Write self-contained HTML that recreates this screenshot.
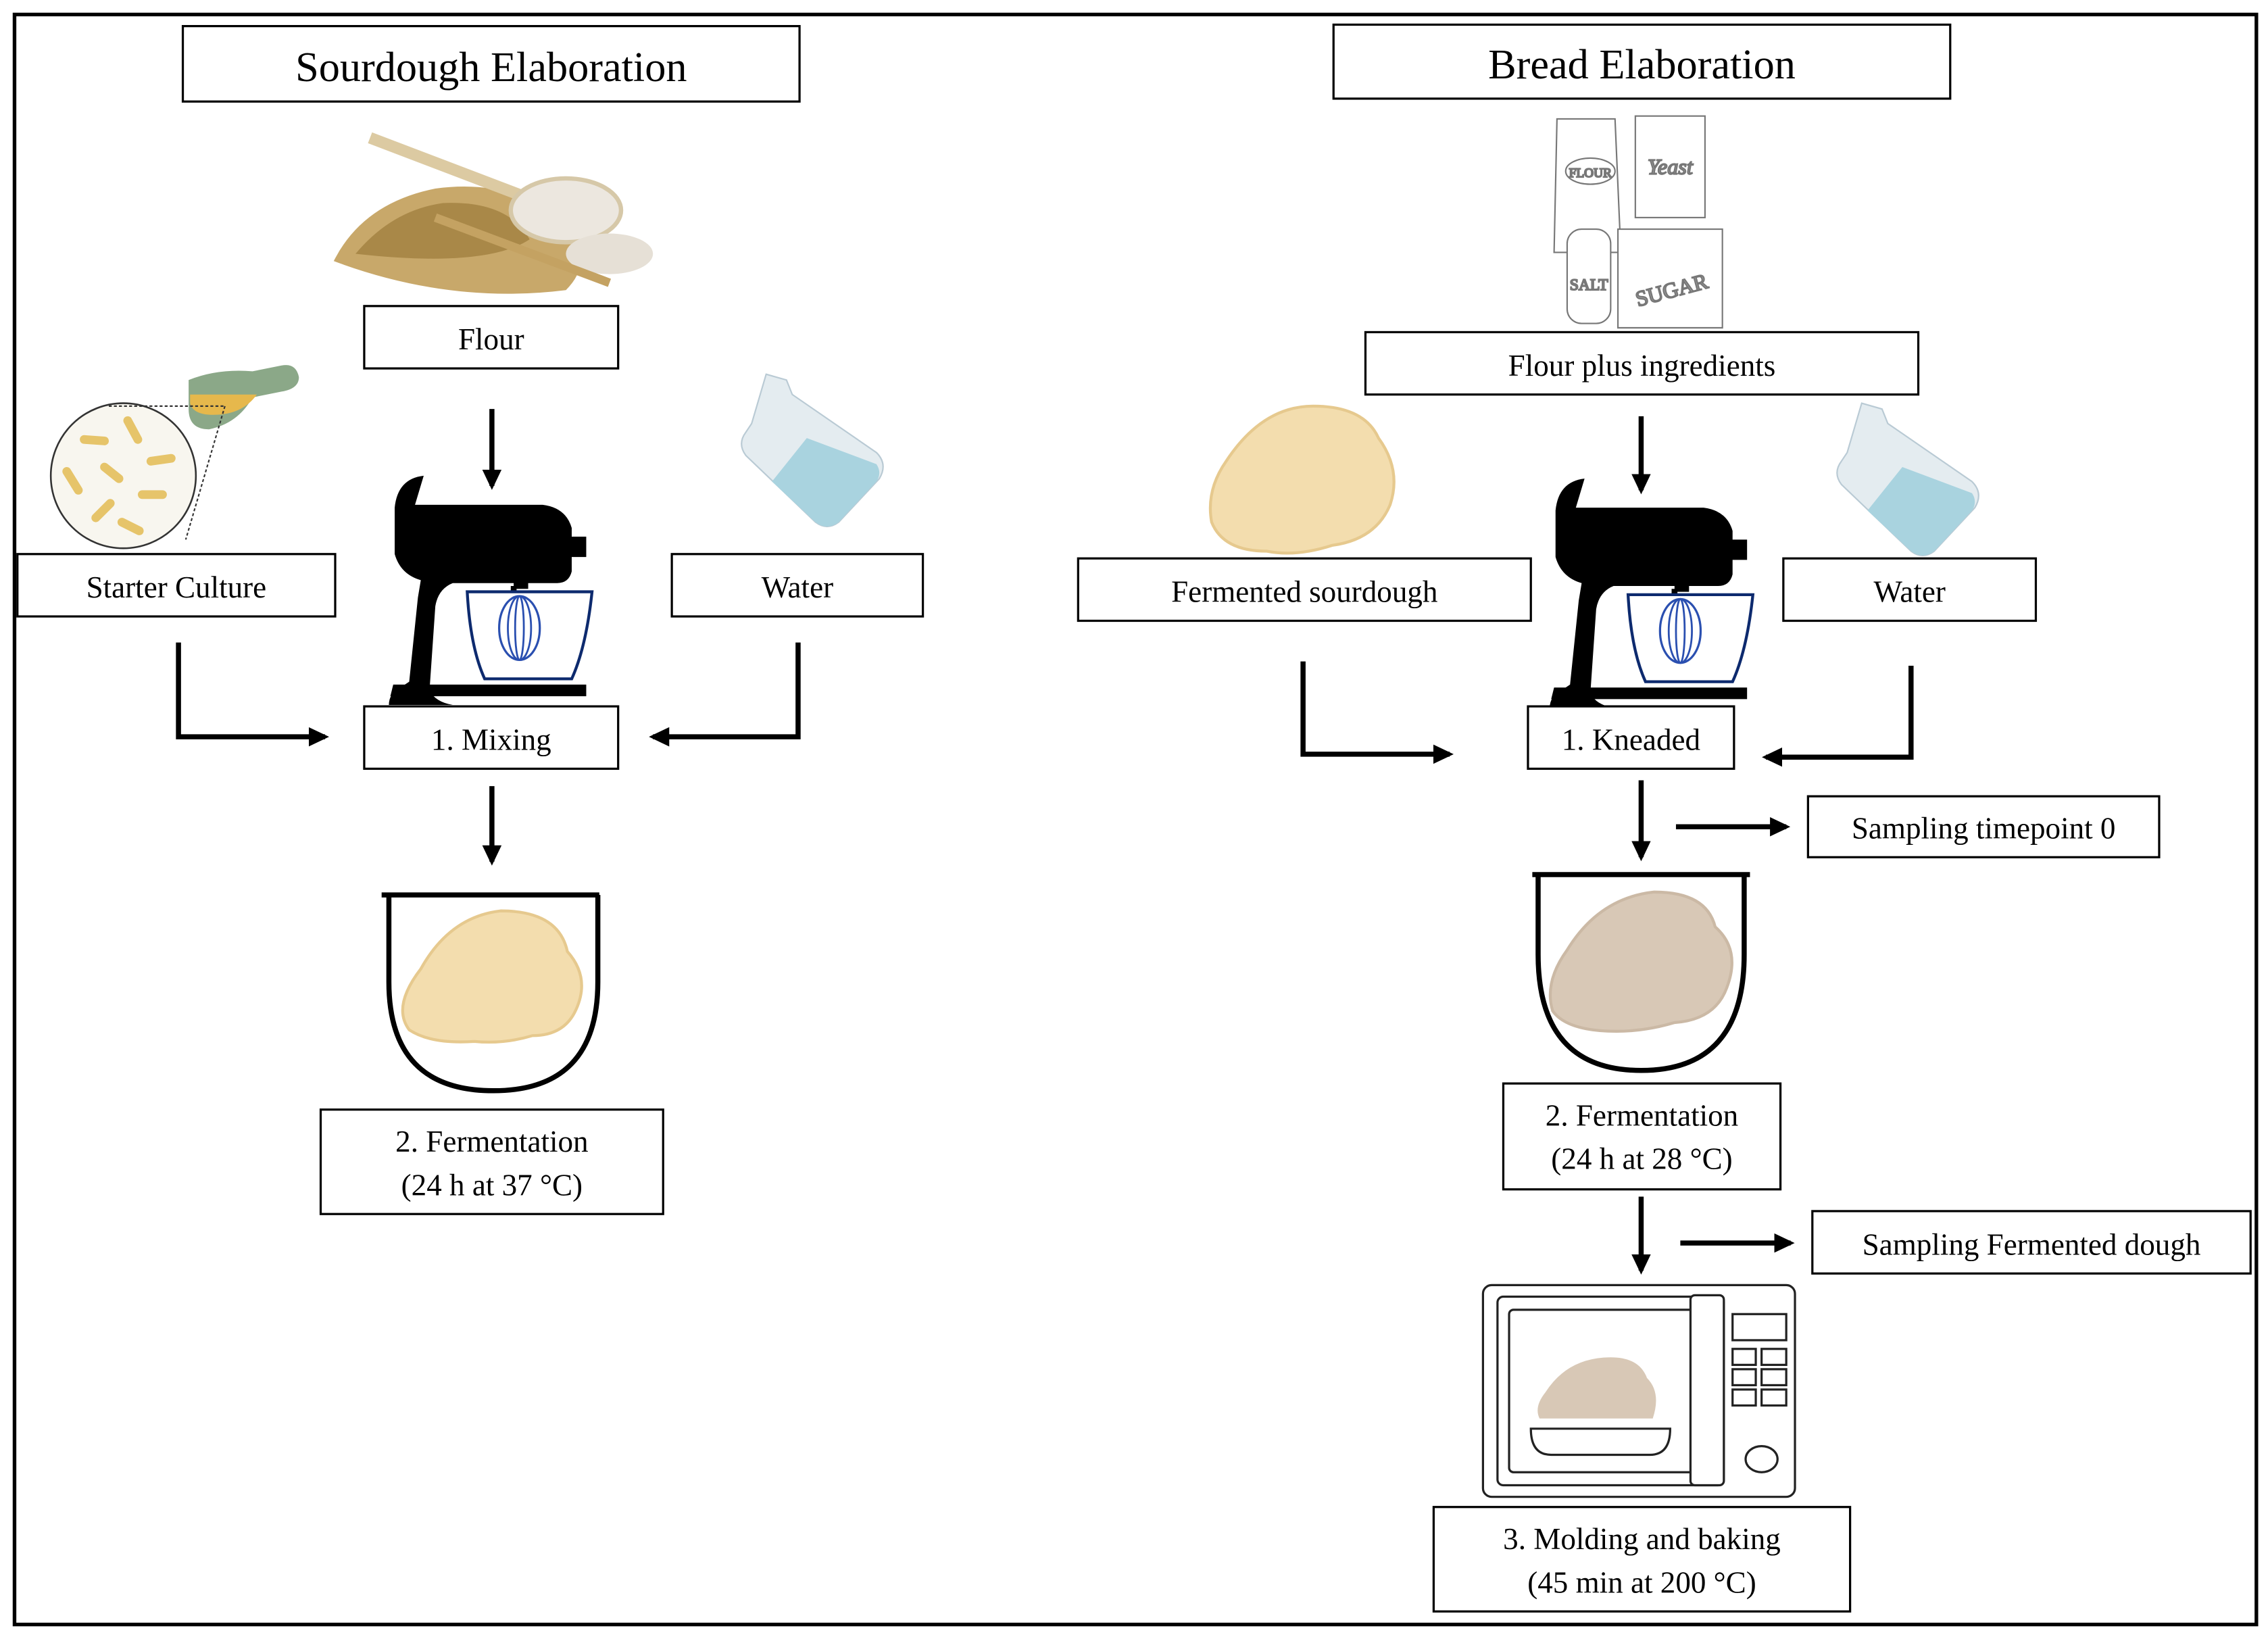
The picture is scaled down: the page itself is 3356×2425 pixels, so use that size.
<!DOCTYPE html>
<html><head><meta charset="utf-8"><style>
html,body{margin:0;padding:0;background:#fff;}
svg{display:block;}
text{font-family:"Liberation Serif","Times New Roman",serif;fill:#000;}
</style></head><body>
<svg width="3356" height="2425" viewBox="0 0 1563 1130" preserveAspectRatio="none" xmlns="http://www.w3.org/2000/svg">
<defs>
<marker id="ah" markerWidth="5" markerHeight="5" refX="3.2" refY="2" orient="auto" markerUnits="strokeWidth">
<path d="M0,0.1 L4,2 L0,3.9 Z" fill="#000"/>
</marker>
<g id="mixer">
<path d="M18,0 h88 q16,2 20,16 v6 h10 v14 h-10 v10 q-2,8 -10,8 h-20 v4 h-10 v-4 h-42 q-10,4 -12,16 l-4,58 q4,8 16,10 h-44 q0,-8 8,-12 l6,-4 l6,-58 l2,-12 q-14,-4 -18,-18 v-32 q2,-20 20,-22 z" fill="#000"/>
<path d="M3,124 h133 v8 h-135 z" fill="#000"/>
<line x1="86" y1="56" x2="86" y2="66" stroke="#000" stroke-width="4"/>
<path d="M54,60 h86 q-4,38 -14,60 h-60 q-10,-22 -12,-60 z" fill="#fff" stroke="#0d2a6e" stroke-width="2"/>
<ellipse cx="90" cy="85" rx="14" ry="22" fill="none" stroke="#2a4fb0" stroke-width="1.5"/>
<ellipse cx="90" cy="85" rx="8" ry="22" fill="none" stroke="#2a4fb0" stroke-width="1.3"/>
<ellipse cx="90" cy="85" rx="3" ry="22" fill="none" stroke="#2a4fb0" stroke-width="1.3"/>
</g>
<g id="water">
<path d="M18,0 l14,4 l4,10 l58,40 q8,8 2,18 l-28,30 q-8,6 -16,0 l-48,-46 q-6,-8 0,-16 l4,-6 z" fill="#e4ecf0" stroke="#b9cad4" stroke-width="1"/>
<path d="M46,44 l48,18 q4,6 0,12 l-26,28 q-8,6 -16,0 l-30,-28 z" fill="#a9d3df"/>
</g>
</defs>

<rect x="10" y="10" width="1545" height="1110" fill="none" stroke="#000" stroke-width="2.5"/>

<rect x="126" y="18" width="425" height="52" fill="#fff" stroke="#000" stroke-width="1.5"/>
<text x="338.5" y="56" font-size="29" text-anchor="middle">Sourdough Elaboration</text>
<rect x="919" y="17" width="425" height="51" fill="#fff" stroke="#000" stroke-width="1.5"/>
<text x="1131.5" y="54" font-size="29" text-anchor="middle">Bread Elaboration</text>

<!-- flour image -->
<g>
<path d="M230,180 q20,-40 70,-50 q60,-8 90,30 q20,20 0,40 q-80,10 -160,-20 z" fill="#c8a86a"/>
<path d="M245,175 q25,-30 60,-35 q45,-2 60,25 q-30,20 -120,10 z" fill="#a98848"/>
<path d="M255,95 L360,135" stroke="#dccaa2" stroke-width="8"/>
<ellipse cx="390" cy="145" rx="38" ry="22" fill="#ece7df" stroke="#d6c8a8" stroke-width="3"/>
<ellipse cx="420" cy="175" rx="30" ry="14" fill="#e6e0d6"/>
<path d="M300,150 L420,195" stroke="#c4a262" stroke-width="6"/>
</g>

<!-- starter culture -->
<circle cx="85" cy="328" r="50" fill="#f8f6ef" stroke="#333" stroke-width="1.2"/>
<g stroke="#e6c46a" stroke-width="6" stroke-linecap="round">
<line x1="58" y1="303" x2="72" y2="304"/><line x1="88" y1="290" x2="95" y2="303"/>
<line x1="72" y1="322" x2="82" y2="330"/><line x1="104" y1="318" x2="118" y2="316"/>
<line x1="46" y1="325" x2="54" y2="338"/><line x1="98" y1="341" x2="112" y2="341"/>
<line x1="66" y1="357" x2="76" y2="347"/><line x1="84" y1="360" x2="96" y2="366"/>
</g>
<path d="M130,262 q20,-8 44,-6 l20,-4 q10,-2 12,8 q0,8 -12,10 l-20,4 q-10,18 -30,22 q-14,0 -14,-14 z" fill="#8ba888"/>
<path d="M131,272 h46 q-10,14 -30,14 q-14,0 -16,-8 z" fill="#e6b84c"/>
<path d="M75,280 h80 M155,280 L128,372" stroke="#333" stroke-width="1" stroke-dasharray="2,1.5" fill="none"/>

<rect x="251" y="211" width="175" height="43" fill="#fff" stroke="#000" stroke-width="1.5"/>
<text x="338.5" y="241" font-size="21" text-anchor="middle">Flour</text>
<rect x="12" y="382" width="219" height="43" fill="#fff" stroke="#000" stroke-width="1.5"/>
<text x="121.5" y="412" font-size="21" text-anchor="middle">Starter Culture</text>
<rect x="463" y="382" width="173" height="43" fill="#fff" stroke="#000" stroke-width="1.5"/>
<text x="549.5" y="412" font-size="21" text-anchor="middle">Water</text>

<use href="#mixer" x="268" y="348"/>

<rect x="251" y="487" width="175" height="43" fill="#fff" stroke="#000" stroke-width="1.5"/>
<text x="338.5" y="517" font-size="21" text-anchor="middle">1. Mixing</text>
<rect x="221" y="765" width="236" height="72" fill="#fff" stroke="#000" stroke-width="1.5"/>
<text x="339" y="794" font-size="21" text-anchor="middle">2. Fermentation</text>
<text x="339" y="824" font-size="21" text-anchor="middle">(24 h at 37 °C)</text>

<use href="#water" x="510" y="258"/>

<path d="M263,617 h150 M268,617 v60 q0,75 72,75 q72,0 72,-75 v-60" fill="none" stroke="#000" stroke-width="3.5"/>
<path d="M290,668 q20,-36 55,-40 q40,0 46,28 q16,18 6,40 q-8,18 -30,18 q-20,6 -40,4 q-30,2 -45,-8 q-12,-16 8,-42 z" fill="#f3ddae" stroke="#e6c98e" stroke-width="2"/>

<g stroke="#000" stroke-width="3.5" fill="none">
<line x1="339" y1="282" x2="339" y2="335" marker-end="url(#ah)"/>
<polyline points="123,443 123,508 224,508" marker-end="url(#ah)"/>
<polyline points="550,443 550,508 450,508" marker-end="url(#ah)"/>
<line x1="339" y1="542" x2="339" y2="594" marker-end="url(#ah)"/>
</g>

<!-- ingredients sketch -->
<g fill="#fff" stroke="#777" stroke-width="1">
<path d="M1073,82 h40 l4,92 h-46 z"/>
<ellipse cx="1096" cy="118" rx="17" ry="9"/>
<text x="1096" y="122" font-size="9" text-anchor="middle" style="fill:#888">FLOUR</text>
<rect x="1127" y="80" width="48" height="70"/>
<text x="1151" y="120" font-size="15" text-anchor="middle" font-style="italic" style="fill:#999">Yeast</text>
<rect x="1080" y="158" width="30" height="65" rx="10"/>
<text x="1095" y="200" font-size="11" text-anchor="middle" style="fill:#999">SALT</text>
<path d="M1115,158 h72 v68 h-72 z"/>
<text x="1152" y="205" font-size="15" text-anchor="middle" transform="rotate(-15 1152 200)" style="fill:#999">SUGAR</text>
</g>

<rect x="941" y="229" width="381" height="43" fill="#fff" stroke="#000" stroke-width="1.5"/>
<text x="1131.5" y="259" font-size="21" text-anchor="middle">Flour plus ingredients</text>

<path d="M845,318 q25,-38 60,-38 q35,0 45,22 q16,22 8,46 q-10,24 -40,28 q-25,8 -45,4 q-30,0 -38,-20 q-4,-22 10,-42 z" fill="#f3ddae" stroke="#e6c98e" stroke-width="2"/>

<rect x="743" y="385" width="312" height="43" fill="#fff" stroke="#000" stroke-width="1.5"/>
<text x="899" y="415" font-size="21" text-anchor="middle">Fermented sourdough</text>
<rect x="1229" y="385" width="174" height="43" fill="#fff" stroke="#000" stroke-width="1.5"/>
<text x="1316" y="415" font-size="21" text-anchor="middle">Water</text>

<use href="#mixer" x="1068" y="350"/>
<use href="#water" x="1265" y="278"/>

<rect x="1053" y="487" width="142" height="43" fill="#fff" stroke="#000" stroke-width="1.5"/>
<text x="1124" y="517" font-size="21" text-anchor="middle">1. Kneaded</text>
<rect x="1246" y="549" width="242" height="42" fill="#fff" stroke="#000" stroke-width="1.5"/>
<text x="1367" y="578" font-size="21" text-anchor="middle">Sampling timepoint 0</text>
<rect x="1036" y="747" width="191" height="73" fill="#fff" stroke="#000" stroke-width="1.5"/>
<text x="1131.5" y="776" font-size="21" text-anchor="middle">2. Fermentation</text>
<text x="1131.5" y="806" font-size="21" text-anchor="middle">(24 h at 28 °C)</text>
<rect x="1249" y="835" width="302" height="43" fill="#fff" stroke="#000" stroke-width="1.5"/>
<text x="1400" y="865" font-size="21" text-anchor="middle">Sampling Fermented dough</text>
<rect x="988" y="1039" width="287" height="72" fill="#fff" stroke="#000" stroke-width="1.5"/>
<text x="1131.5" y="1068" font-size="21" text-anchor="middle">3. Molding and baking</text>
<text x="1131.5" y="1098" font-size="21" text-anchor="middle">(45 min at 200 °C)</text>

<path d="M1056,603 h150 M1060,603 v55 q0,80 71,80 q71,0 71,-80 v-55" fill="none" stroke="#000" stroke-width="3.5"/>
<path d="M1080,655 q22,-36 60,-40 q36,0 42,24 q18,16 8,42 q-8,22 -36,24 q-20,6 -40,6 q-34,0 -44,-14 q-6,-20 10,-42 z" fill="#d8c8b6" stroke="#cbb9a5" stroke-width="2"/>

<g fill="none" stroke="#222" stroke-width="1.5">
<rect x="1022" y="886" width="215" height="146" rx="6"/>
<rect x="1032" y="894" width="156" height="130" rx="4"/>
<rect x="1040" y="903" width="128" height="112" rx="3"/>
<rect x="1165" y="893" width="23" height="131" rx="3" fill="#fff"/>
<rect x="1194" y="906" width="37" height="18"/>
<rect x="1194" y="930" width="16" height="11"/><rect x="1214" y="930" width="17" height="11"/>
<rect x="1194" y="944" width="16" height="11"/><rect x="1214" y="944" width="17" height="11"/>
<rect x="1194" y="958" width="16" height="11"/><rect x="1214" y="958" width="17" height="11"/>
<ellipse cx="1214" cy="1006" rx="11" ry="9"/>
</g>
<path d="M1065,960 q14,-22 40,-24 q24,-2 30,14 q10,10 4,28 h-78 q-4,-8 4,-18 z" fill="#d8c8b6"/>
<path d="M1055,985 h96 q0,18 -14,18 h-68 q-14,0 -14,-18 z" fill="#fff" stroke="#222" stroke-width="1.5"/>

<g stroke="#000" stroke-width="3.5" fill="none">
<line x1="1131" y1="287" x2="1131" y2="338" marker-end="url(#ah)"/>
<polyline points="898,456 898,520 999,520" marker-end="url(#ah)"/>
<polyline points="1317,459 1317,522 1217,522" marker-end="url(#ah)"/>
<line x1="1131" y1="538" x2="1131" y2="591" marker-end="url(#ah)"/>
<line x1="1155" y1="570" x2="1231" y2="570" marker-end="url(#ah)"/>
<line x1="1131" y1="825" x2="1131" y2="876" marker-end="url(#ah)"/>
<line x1="1158" y1="857" x2="1234" y2="857" marker-end="url(#ah)"/>
</g>
</svg>
</body></html>
